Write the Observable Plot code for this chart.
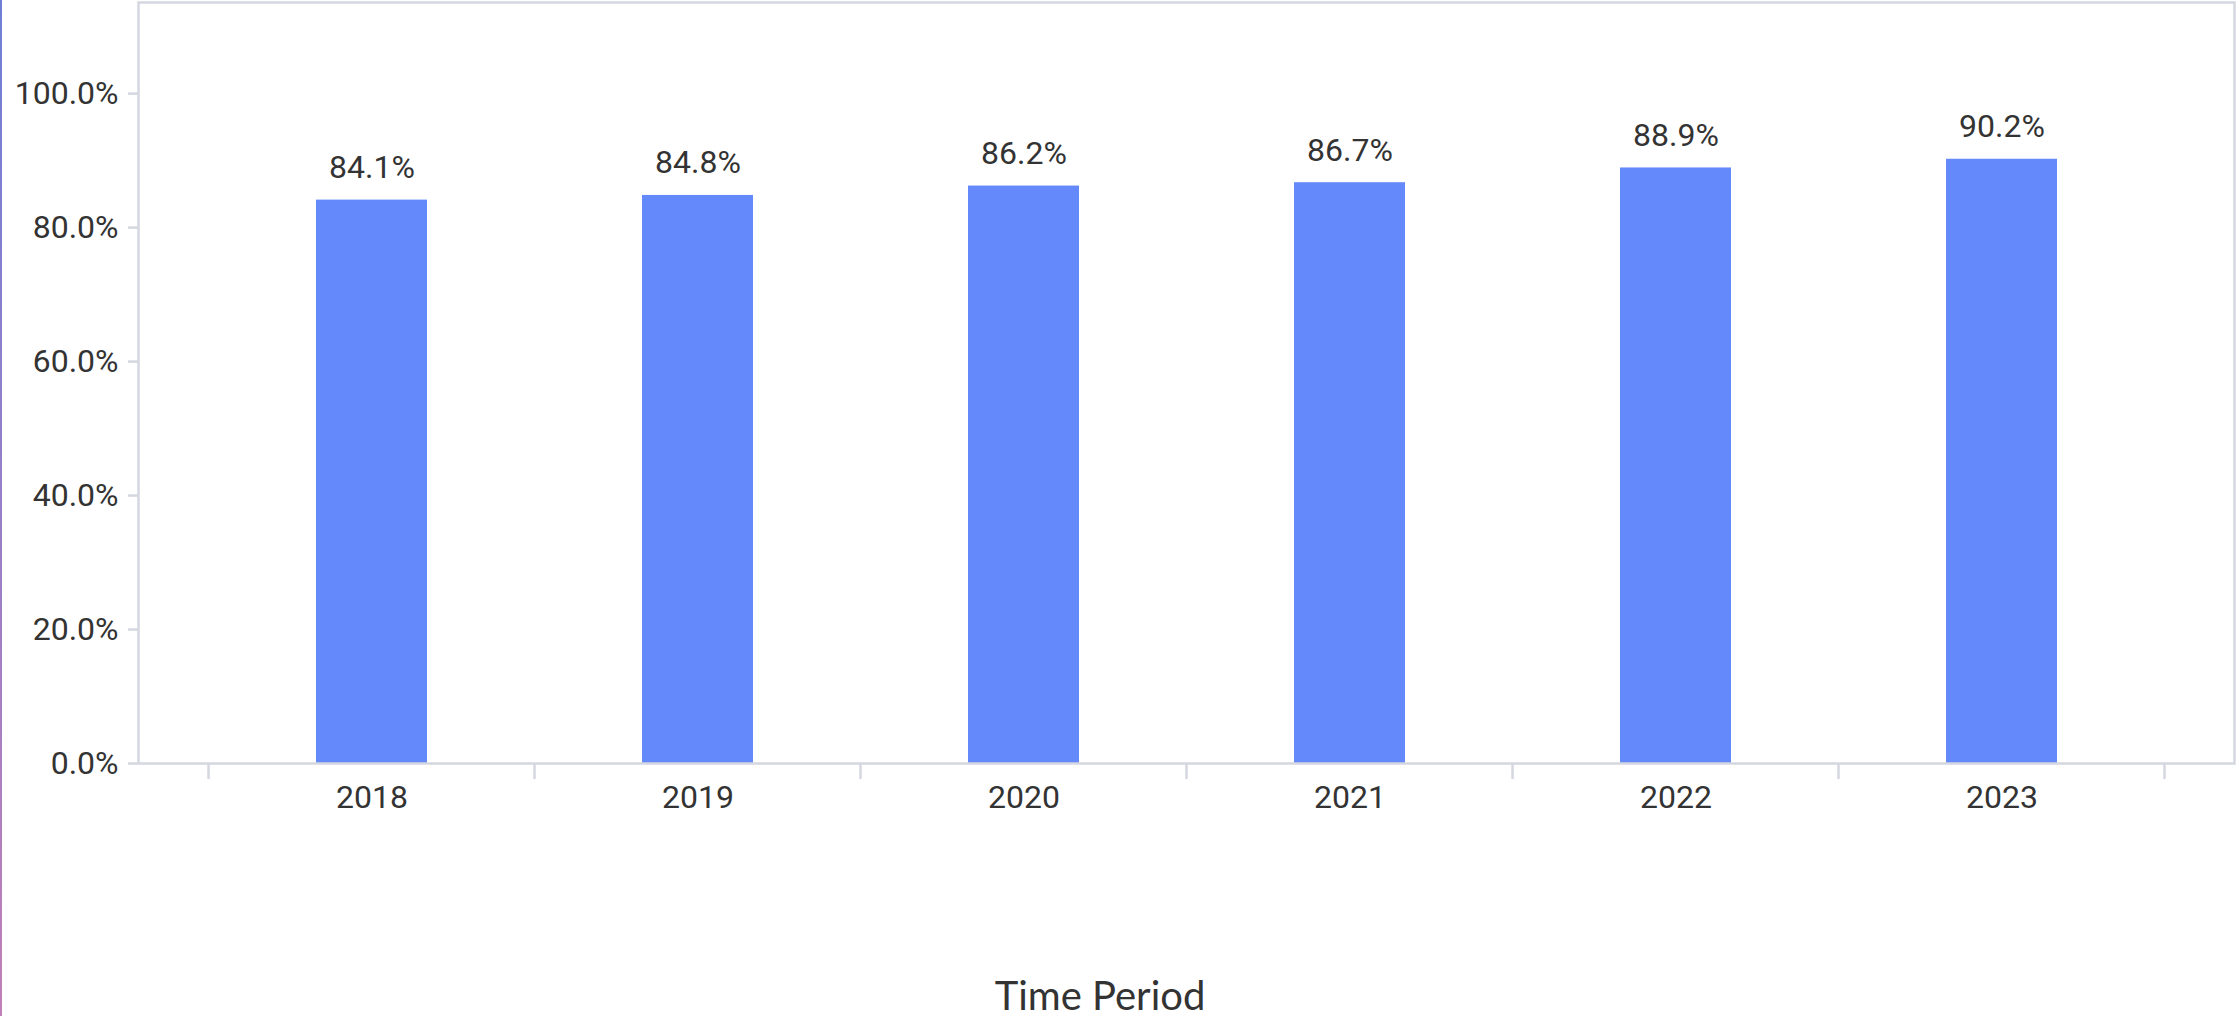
<!DOCTYPE html>
<html>
<head>
<meta charset="utf-8">
<script src="https://cdn.jsdelivr.net/npm/d3@7"></script>
<script src="https://cdn.jsdelivr.net/npm/@observablehq/plot@0.6"></script>
<style>
  html, body { margin: 0; padding: 0; background: #fff; }
  body { width: 2236px; height: 1016px; position: relative; overflow: hidden; }
  #edge { position: absolute; left: 0; top: 0; width: 2px; height: 1016px;
          background: linear-gradient(#6f7fd6, #c07fb8); }
  #chart { position: absolute; left: 0; top: 0; }
  #caption { position: absolute; left: 0; width: 2200px; top: 975px; text-align: center;
             font-family: Lato, sans-serif; font-size: 40px; line-height: 40px; color: #333; }
</style>
</head>
<body>
<div id="edge"></div>
<div id="chart"></div>
<div id="caption">Time Period</div>
<script>
const years = ["2018", "2019", "2020", "2021", "2022", "2023"];
const values = [84.1, 84.8, 86.2, 86.7, 88.9, 90.2];
const yTicks = [0, 20, 40, 60, 80, 100];
const yMax = 113.6;

const data = years.map((year, i) => ({year, value: values[i]}));
const pct = v => d3.format(".1f")(v) + "%";
const axisColor = "#d4d7df";
const textColor = "#333333";

// boundary tick marks between categories, derived from the band scale
function bandTicks(index, scales, values, dimensions) {
  const x = scales.x;
  const half = (x.step() - x.bandwidth()) / 2;
  const bounds = years.map(y => x(y) - half).concat([x(years[years.length - 1]) + x.bandwidth() + half]);
  const y0 = dimensions.height - dimensions.marginBottom;
  const g = d3.create("svg:g");
  g.selectAll("line").data(bounds).join("line")
    .attr("x1", d => d).attr("x2", d => d)
    .attr("y1", y0).attr("y2", y0 + 16)
    .attr("stroke", axisColor).attr("stroke-width", 2.5);
  return g.node();
}

const chart = Plot.plot({
  width: 2236,
  height: 830,
  marginLeft: 138,
  marginRight: 2,
  marginTop: 2,
  marginBottom: 67,
  style: {fontFamily: "Roboto, sans-serif", fontSize: "32px", color: textColor, background: "transparent"},
  x: {domain: years, range: [208, 2165], paddingInner: 0.66, paddingOuter: 0.33, label: null},
  y: {domain: [0, yMax], label: null},
  marks: [
    Plot.barY(data, {x: "year", y: "value", fill: "#6489fb"}),
    Plot.text(data, {x: "year", y: "value", text: d => pct(d.value), lineAnchor: "bottom", dy: -22,
                     fill: textColor, fontSize: 32}),
    Plot.frame({stroke: axisColor, strokeWidth: 2.5}),
    Plot.axisY({ticks: yTicks, tickFormat: pct, tickSize: 10, tickPadding: 10, stroke: axisColor,
                strokeWidth: 2.5, fill: textColor, fontSize: 32, label: null}),
    Plot.axisX({tickSize: 0, tickPadding: 22, fill: textColor, fontSize: 32, label: null}),
    bandTicks
  ]
});
document.getElementById("chart").appendChild(chart);
</script>
</body>
</html>
